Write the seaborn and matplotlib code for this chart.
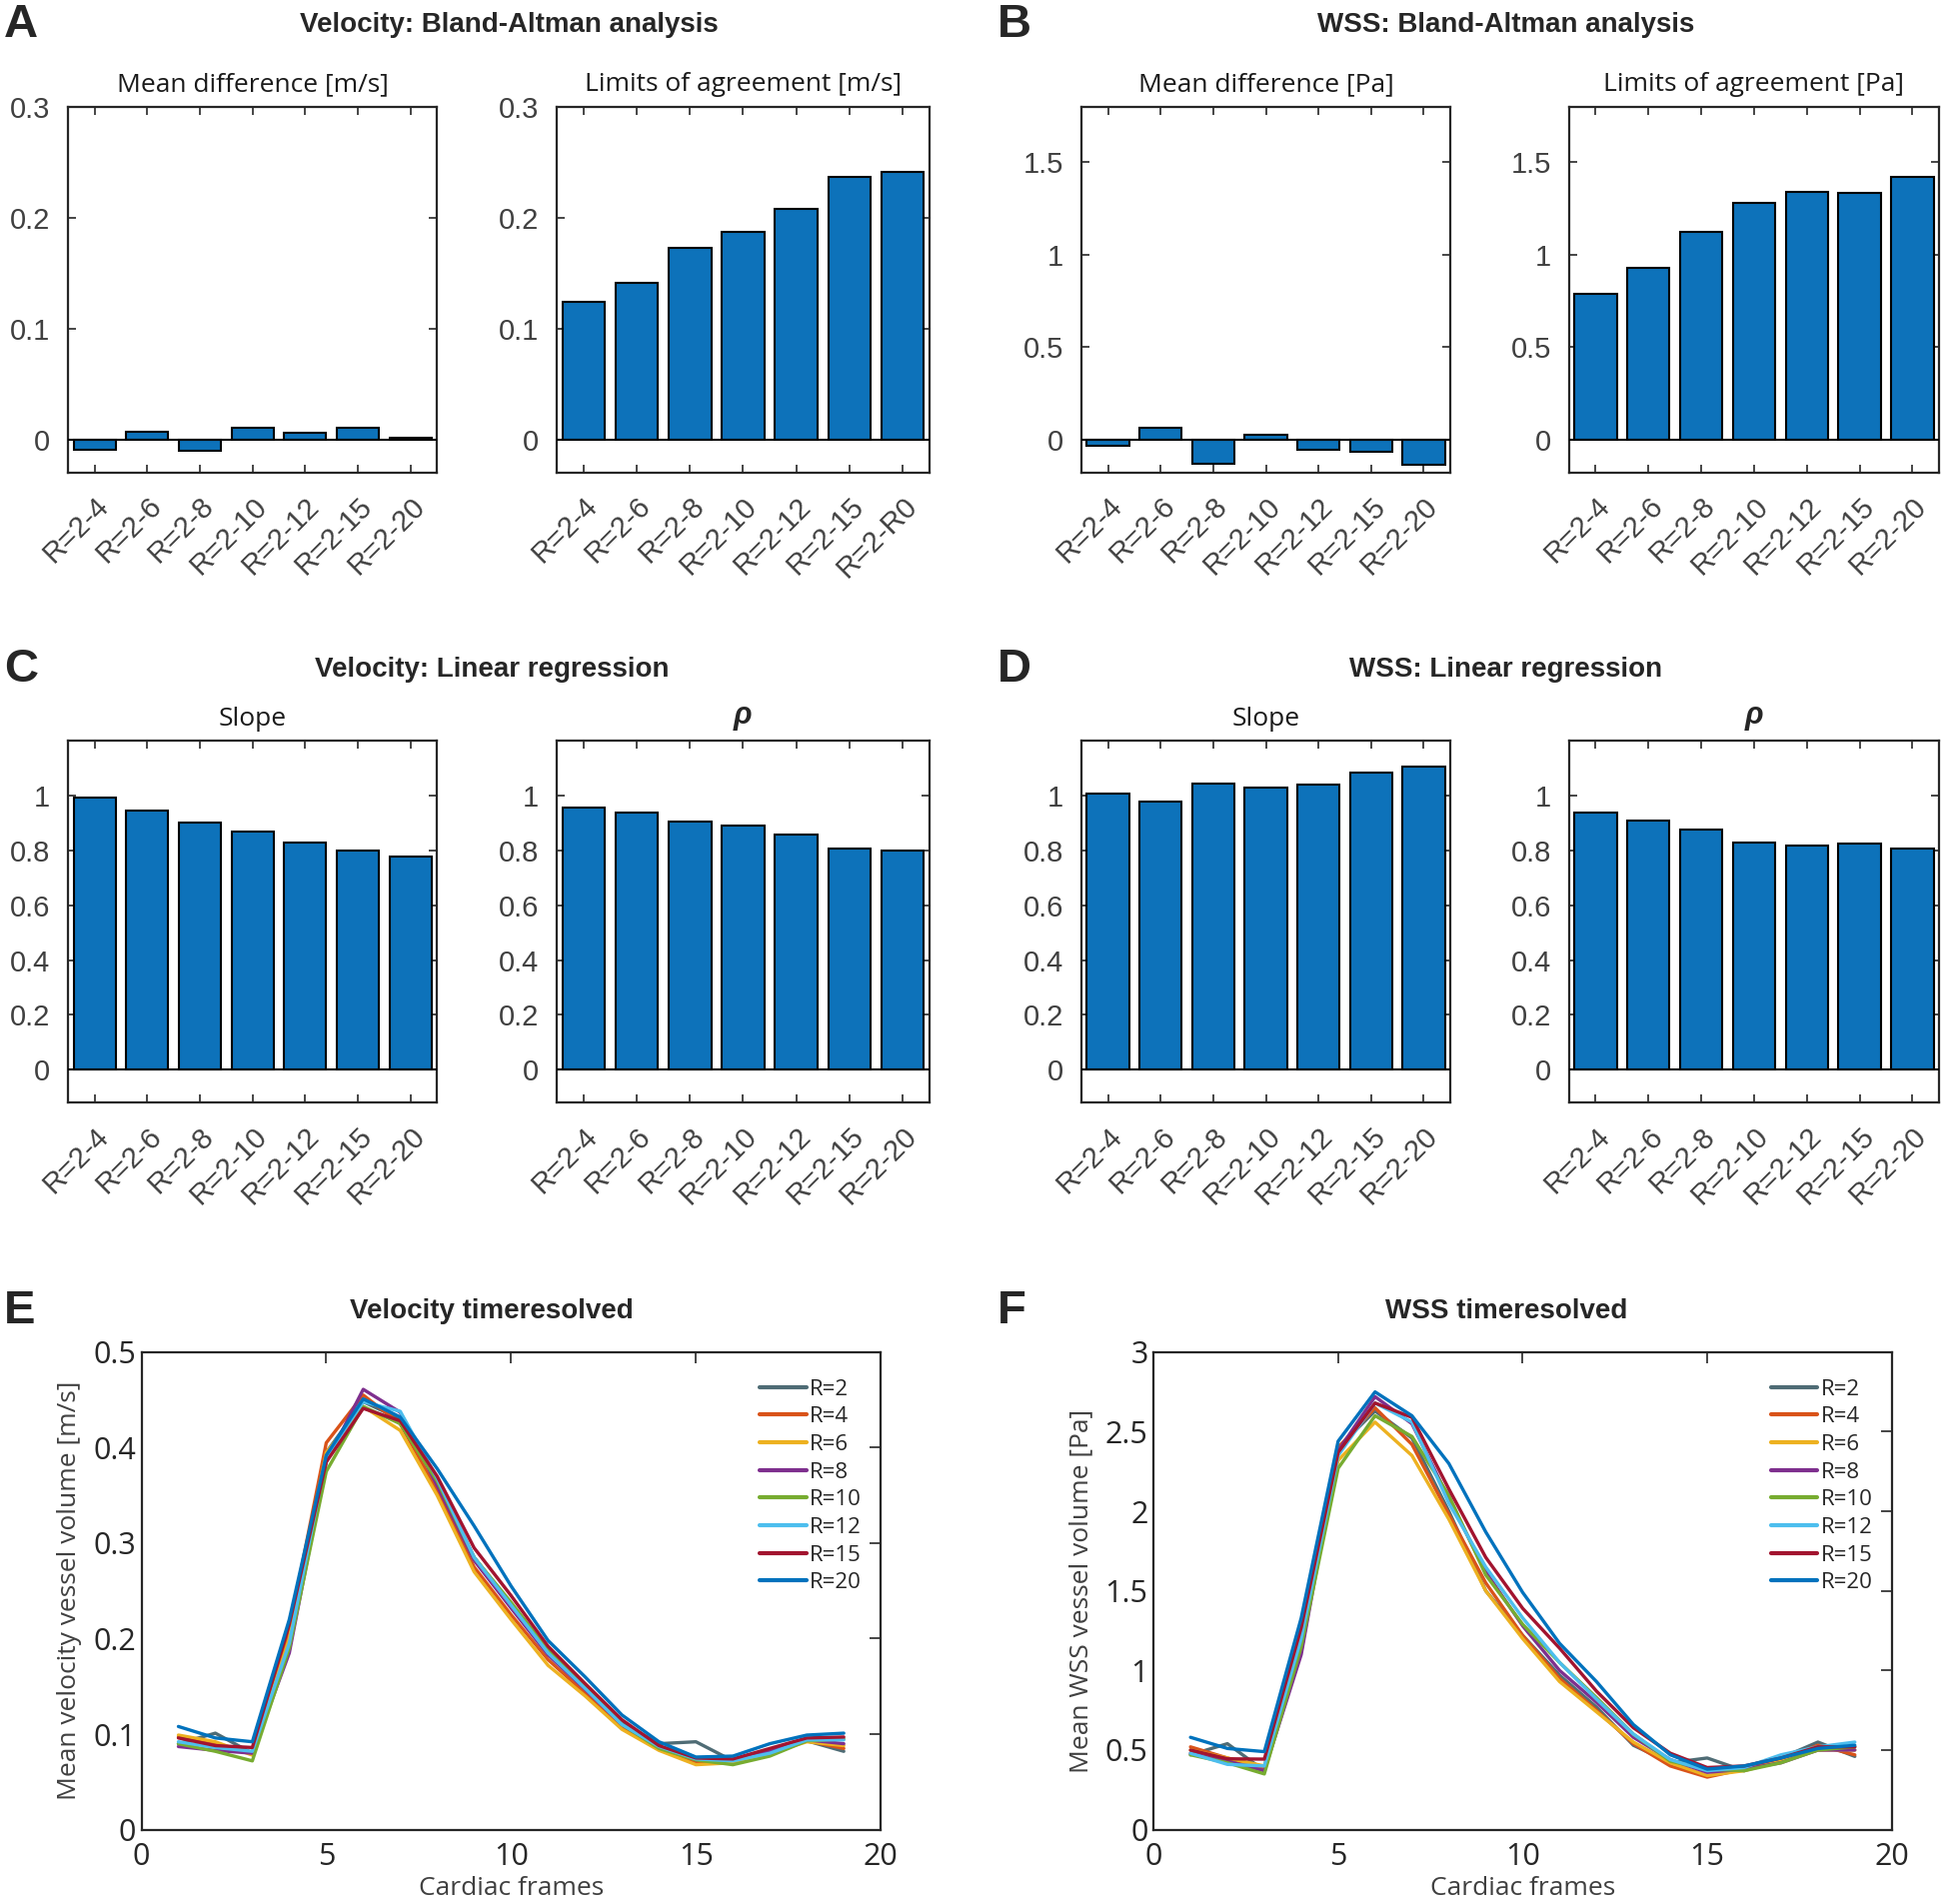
import numpy as np
import pandas as pd
import matplotlib
matplotlib.use('Agg')
import matplotlib.pyplot as plt
import seaborn as sns

# ---- data -----------------------------------------------------------------
pairs = ['R=2-4', 'R=2-6', 'R=2-8', 'R=2-10', 'R=2-12', 'R=2-15', 'R=2-20']
pairs_vel_loa = ['R=2-4', 'R=2-6', 'R=2-8', 'R=2-10', 'R=2-12', 'R=2-15', 'R=2-R0']

vel_mean_diff = [-0.0097, 0.0066, -0.0107, 0.0107, 0.0059, 0.0107, 0.0010]
vel_loa = [0.124, 0.141, 0.173, 0.187, 0.208, 0.237, 0.241]
wss_mean_diff = [-0.033, 0.064, -0.134, 0.023, -0.054, -0.066, -0.138]
wss_loa = [0.787, 0.928, 1.124, 1.279, 1.341, 1.335, 1.419]

vel_slope = [0.992, 0.944, 0.902, 0.868, 0.830, 0.798, 0.778]
vel_rho = [0.956, 0.938, 0.905, 0.889, 0.858, 0.808, 0.799]
wss_slope = [1.008, 0.977, 1.045, 1.027, 1.038, 1.085, 1.105]
wss_rho = [0.937, 0.907, 0.874, 0.830, 0.816, 0.826, 0.806]

frames = list(range(1, 20))
series_names = ['R=2', 'R=4', 'R=6', 'R=8', 'R=10', 'R=12', 'R=15', 'R=20']

vel_R2 = [0.090, 0.101, 0.080, 0.200, 0.395, 0.448, 0.430, 0.365, 0.285, 0.235, 0.188, 0.150, 0.112, 0.090, 0.092, 0.072, 0.080, 0.093, 0.082]
vel_R4 = [0.097, 0.090, 0.080, 0.210, 0.405, 0.455, 0.425, 0.355, 0.275, 0.225, 0.178, 0.143, 0.107, 0.085, 0.070, 0.072, 0.080, 0.093, 0.085]
vel_R6 = [0.099, 0.092, 0.078, 0.200, 0.395, 0.443, 0.418, 0.350, 0.270, 0.220, 0.172, 0.140, 0.105, 0.083, 0.068, 0.070, 0.080, 0.092, 0.088]
vel_R8 = [0.087, 0.083, 0.080, 0.185, 0.385, 0.461, 0.437, 0.360, 0.282, 0.232, 0.183, 0.147, 0.110, 0.087, 0.073, 0.073, 0.082, 0.094, 0.090]
vel_R10 = [0.090, 0.082, 0.072, 0.190, 0.375, 0.443, 0.425, 0.365, 0.285, 0.238, 0.188, 0.150, 0.110, 0.085, 0.073, 0.068, 0.077, 0.093, 0.095]
vel_R12 = [0.092, 0.086, 0.082, 0.195, 0.390, 0.448, 0.438, 0.368, 0.285, 0.235, 0.185, 0.148, 0.110, 0.087, 0.074, 0.072, 0.080, 0.094, 0.094]
vel_R15 = [0.096, 0.088, 0.086, 0.215, 0.385, 0.441, 0.428, 0.370, 0.295, 0.245, 0.192, 0.153, 0.115, 0.088, 0.075, 0.074, 0.085, 0.096, 0.097]
vel_R20 = [0.108, 0.096, 0.092, 0.220, 0.392, 0.451, 0.432, 0.378, 0.318, 0.255, 0.198, 0.160, 0.120, 0.092, 0.076, 0.077, 0.090, 0.099, 0.101]

wss_R2 = [0.47, 0.54, 0.37, 1.12, 2.40, 2.63, 2.46, 2.00, 1.50, 1.22, 0.97, 0.77, 0.53, 0.42, 0.45, 0.37, 0.45, 0.55, 0.46]
wss_R4 = [0.52, 0.45, 0.38, 1.22, 2.40, 2.65, 2.42, 1.98, 1.55, 1.22, 0.95, 0.75, 0.54, 0.40, 0.33, 0.38, 0.44, 0.53, 0.47]
wss_R6 = [0.50, 0.45, 0.40, 1.20, 2.32, 2.56, 2.35, 1.95, 1.50, 1.20, 0.93, 0.74, 0.55, 0.42, 0.34, 0.37, 0.43, 0.50, 0.50]
wss_R8 = [0.48, 0.43, 0.37, 1.10, 2.38, 2.72, 2.55, 2.08, 1.62, 1.28, 1.00, 0.80, 0.58, 0.44, 0.36, 0.38, 0.42, 0.50, 0.50]
wss_R10 = [0.47, 0.42, 0.35, 1.15, 2.27, 2.60, 2.47, 2.10, 1.60, 1.29, 1.05, 0.83, 0.60, 0.43, 0.38, 0.37, 0.42, 0.50, 0.52]
wss_R12 = [0.48, 0.41, 0.40, 1.20, 2.35, 2.68, 2.56, 2.05, 1.65, 1.33, 1.05, 0.82, 0.60, 0.44, 0.37, 0.39, 0.47, 0.52, 0.55]
wss_R15 = [0.50, 0.445, 0.443, 1.27, 2.37, 2.68, 2.59, 2.14, 1.71, 1.39, 1.14, 0.87, 0.64, 0.48, 0.39, 0.40, 0.45, 0.52, 0.52]
wss_R20 = [0.58, 0.51, 0.49, 1.33, 2.44, 2.75, 2.60, 2.30, 1.87, 1.49, 1.17, 0.93, 0.66, 0.47, 0.38, 0.40, 0.45, 0.51, 0.53]

vel_series = [vel_R2, vel_R4, vel_R6, vel_R8, vel_R10, vel_R12, vel_R15, vel_R20]
wss_series = [wss_R2, wss_R4, wss_R6, wss_R8, wss_R10, wss_R12, wss_R15, wss_R20]

line_colors = ['#4F6C75', '#D95319', '#EDB120', '#7E2F8E', '#77AC30', '#4DBEEE', '#A2142F', '#0072BD']
BLUE = '#0D72BA'

# ---- style ----------------------------------------------------------------
sns.set_style('white')
plt.rcParams['font.family'] = ['Open Sans', 'DejaVu Sans']
NARROW = ['Liberation Sans Narrow', 'Liberation Sans', 'DejaVu Sans']
BOLD = ['Liberation Sans', 'DejaVu Sans']
TXT = '#404040'

W, H = 1946, 1905
fig = plt.figure(figsize=(W / 100, H / 100), dpi=100)


def box(l, t, r, b):
    return [l / W, 1 - b / H, (r - l) / W, (b - t) / H]


def style_frame(ax, lw=1.6):
    for s in ax.spines.values():
        s.set_visible(True)
        s.set_color('#262626')
        s.set_linewidth(lw)


def bar_panel(rect, labels, values, ylim, yticks, ytl, title, greek=False):
    ax = fig.add_axes(box(*rect))
    df = pd.DataFrame({'pair': labels, 'value': values})
    sns.barplot(data=df, x='pair', y='value', color=BLUE, saturation=1,
                edgecolor='black', linewidth=1.5, width=0.8, ax=ax)
    ax.axhline(0, color='black', lw=1.5, zorder=3)
    ax.set_xlim(-0.5, 6.5)
    ax.set_ylim(*ylim)
    ax.set_yticks(yticks)
    ax.set_yticklabels(ytl, family=NARROW, fontsize=21, color=TXT)
    ax.set_xticks(range(7))
    ax.set_xticklabels(labels, family=NARROW, fontsize=21, color=TXT,
                       rotation=45, ha='right', va='top', rotation_mode='anchor')
    ax.set_xlabel('')
    ax.set_ylabel('')
    ax.tick_params(direction='in', length=6, width=1.2, top=True, right=True,
                   bottom=True, left=True, color='#262626')
    ax.tick_params(axis='x', pad=14)
    ax.tick_params(axis='y', pad=13)
    style_frame(ax)
    if greek:
        ax.set_title(title, fontsize=22, fontweight='bold', style='italic',
                     family=BOLD, pad=12)
    else:
        ax.set_title(title, fontsize=19, color='#1a1a1a', pad=11)
    return ax


def line_panel(rect, series, ylim, yticks, ytl, ylabel):
    ax = fig.add_axes(box(*rect))
    rows = []
    for name, vals in zip(series_names, series):
        for f, v in zip(frames, vals):
            rows.append((f, v, name))
    df = pd.DataFrame(rows, columns=['frame', 'value', 'R'])
    sns.lineplot(data=df, x='frame', y='value', hue='R', hue_order=series_names,
                 palette=dict(zip(series_names, line_colors)), lw=2.4,
                 errorbar=None, ax=ax)
    ax.set_xlim(0, 20)
    ax.set_ylim(*ylim)
    ax.set_xticks([0, 5, 10, 15, 20])
    ax.set_xticklabels(['0', '5', '10', '15', '20'], fontsize=22, color='#262626')
    ax.set_yticks(yticks)
    ax.set_yticklabels(ytl, fontsize=22, color='#262626')
    ax.set_xlabel('Cardiac frames', fontsize=19, color=TXT, labelpad=3)
    ax.set_ylabel(ylabel, fontsize=19, color=TXT, labelpad=8)
    ax.tick_params(direction='in', length=8, width=1.2, top=True, right=True,
                   color='#262626')
    ax.tick_params(axis='x', pad=9)
    ax.tick_params(axis='y', pad=4)
    style_frame(ax)
    leg = ax.legend(frameon=False, loc='upper left', bbox_to_anchor=(0.836, 0.944),
                    fontsize=16, handlelength=2.1, handletextpad=0.15,
                    labelspacing=0.3, borderpad=0, borderaxespad=0)
    for ln in leg.get_lines():
        ln.set_linewidth(3)
    return ax


# ---- row 1: Bland-Altman -----------------------------------------------------
r1 = (106.7, 472.9)
bar_panel((68.3, r1[0], 436.9, r1[1]), pairs, vel_mean_diff, (-0.03, 0.3),
          [0, 0.1, 0.2, 0.3], ['0', '0.1', '0.2', '0.3'], 'Mean difference [m/s]')
bar_panel((557.3, r1[0], 929.6, r1[1]), pairs_vel_loa, vel_loa, (-0.03, 0.3),
          [0, 0.1, 0.2, 0.3], ['0', '0.1', '0.2', '0.3'], 'Limits of agreement [m/s]')
bar_panel((1082.2, r1[0], 1450.8, r1[1]), pairs, wss_mean_diff, (-0.18, 1.8),
          [0, 0.5, 1, 1.5], ['0', '0.5', '1', '1.5'], 'Mean difference [Pa]')
bar_panel((1570.0, r1[0], 1939.8, r1[1]), pairs, wss_loa, (-0.18, 1.8),
          [0, 0.5, 1, 1.5], ['0', '0.5', '1', '1.5'], 'Limits of agreement [Pa]')

# ---- row 2: regression -------------------------------------------------------
r2 = (741.0, 1103.3)
t2 = [0, 0.2, 0.4, 0.6, 0.8, 1]
tl2 = ['0', '0.2', '0.4', '0.6', '0.8', '1']
bar_panel((68.3, r2[0], 436.9, r2[1]), pairs, vel_slope, (-0.12, 1.2), t2, tl2, 'Slope')
bar_panel((557.3, r2[0], 929.6, r2[1]), pairs, vel_rho, (-0.12, 1.2), t2, tl2, 'ρ', greek=True)
bar_panel((1082.2, r2[0], 1450.8, r2[1]), pairs, wss_slope, (-0.12, 1.2), t2, tl2, 'Slope')
bar_panel((1570.0, r2[0], 1939.8, r2[1]), pairs, wss_rho, (-0.12, 1.2), t2, tl2, 'ρ', greek=True)

# ---- row 3: time resolved ----------------------------------------------------
line_panel((141.5, 1352.8, 881.2, 1830.6), vel_series, (0, 0.5),
           [0, 0.1, 0.2, 0.3, 0.4, 0.5], ['0', '0.1', '0.2', '0.3', '0.4', '0.5'],
           'Mean velocity vessel volume [m/s]')
line_panel((1154.2, 1352.8, 1892.7, 1830.6), wss_series, (0, 3),
           [0, 0.5, 1, 1.5, 2, 2.5, 3], ['0', '0.5', '1', '1.5', '2', '2.5', '3'],
           'Mean WSS vessel volume [Pa]')

# ---- headings ---------------------------------------------------------------
def ftext(x, y, s, **kw):
    fig.text(x / W, 1 - y / H, s, va='center', **kw)

for letter, x, y in [('A', 4, 25), ('B', 998, 25), ('C', 4, 670), ('D', 998, 670),
                     ('E', 4, 1312), ('F', 998, 1312)]:
    ftext(x, y, letter, fontsize=34, fontweight='bold', family=BOLD, ha='left')

for s, x, y in [('Velocity: Bland-Altman analysis', 509, 25),
                ('WSS: Bland-Altman analysis', 1507, 25),
                ('Velocity: Linear regression', 492, 670),
                ('WSS: Linear regression', 1507, 670),
                ('Velocity timeresolved', 492, 1312),
                ('WSS timeresolved', 1507, 1312)]:
    ftext(x, y, s, fontsize=20, fontweight='bold', family=BOLD, ha='center')

fig.savefig('out.png', dpi=100)
